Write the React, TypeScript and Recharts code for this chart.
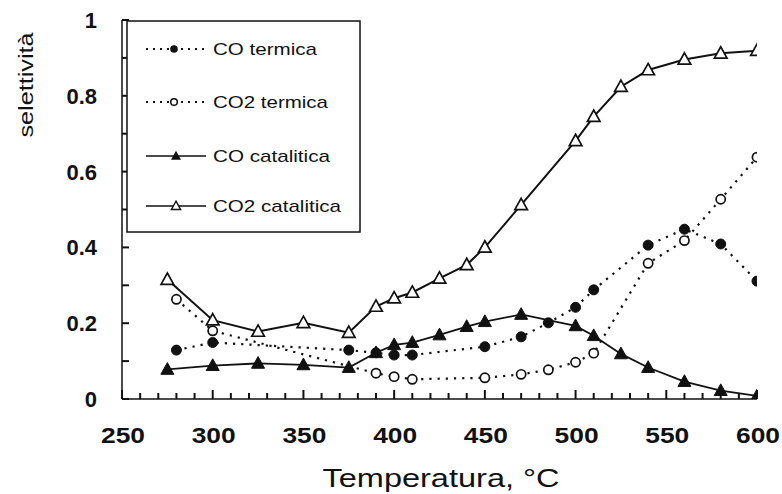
import React from 'react';
import { LineChart, Line, XAxis, YAxis, Legend, Label } from 'recharts';

// ---- data ----
const tempCatalitica = [275, 300, 325, 350, 375, 390, 400, 410, 425, 440, 450, 470, 500, 510, 525, 540, 560, 580, 600];
const coCatalitica = [0.078, 0.088, 0.094, 0.09, 0.083, 0.122, 0.143, 0.149, 0.169, 0.191, 0.204, 0.223, 0.193, 0.167, 0.119, 0.083, 0.046, 0.022, 0.008];
const co2Catalitica = [0.315, 0.208, 0.178, 0.201, 0.175, 0.244, 0.266, 0.281, 0.318, 0.354, 0.4, 0.512, 0.681, 0.745, 0.824, 0.868, 0.896, 0.912, 0.919];

const tempCoTermica = [280, 300, 375, 390, 400, 410, 450, 470, 485, 500, 510, 540, 560, 580, 600];
const coTermica = [0.129, 0.149, 0.129, 0.122, 0.116, 0.116, 0.138, 0.164, 0.201, 0.242, 0.288, 0.406, 0.448, 0.409, 0.311];

const tempCo2Termica = [280, 300, 390, 400, 410, 450, 470, 485, 500, 510, 540, 560, 580, 600];
const co2Termica = [0.263, 0.18, 0.068, 0.059, 0.052, 0.056, 0.065, 0.077, 0.097, 0.121, 0.358, 0.418, 0.527, 0.638];

const xTicks = [250, 260, 270, 280, 290, 300, 310, 320, 330, 340, 350, 360, 370, 380, 390, 400, 410, 420, 430, 440, 450, 460, 470, 480, 490, 500, 510, 520, 530, 540, 550, 560, 570, 580, 590, 600];
const yTicks = [0, 0.1, 0.2, 0.3, 0.4, 0.5, 0.6, 0.7, 0.8, 0.9, 1];

const seriesNames = ['CO termica', 'CO2 termica', 'CO catalitica', 'CO2 catalitica'];

const zip = (xs: number[], ys: number[]) => xs.map((t, i) => ({ t, v: ys[i] }));
const coTermicaData = zip(tempCoTermica, coTermica);
const co2TermicaData = zip(tempCo2Termica, co2Termica);
const coCataliticaData = zip(tempCatalitica, coCatalitica);
const co2CataliticaData = zip(tempCatalitica, co2Catalitica);

const FONT = '"Liberation Sans", Arial, Helvetica, sans-serif';
const INK = '#111';

const triPath = (cx: number, cy: number, s: number) =>
  `M${cx},${cy - s * 1.05} L${cx + s},${cy + s * 0.75} L${cx - s},${cy + s * 0.75} Z`;

const FilledCircle = (p: any) =>
  p.cx == null ? null : <circle key={`fc${p.index}`} cx={p.cx} cy={p.cy} r={5} fill={INK} stroke={INK} strokeWidth={1} />;
const OpenCircle = (p: any) =>
  p.cx == null ? null : <circle key={`oc${p.index}`} cx={p.cx} cy={p.cy} r={4.6} fill="#fff" stroke={INK} strokeWidth={1.7} />;
const FilledTri = (p: any) =>
  p.cx == null ? null : <path key={`ft${p.index}`} d={triPath(p.cx, p.cy, 6.5)} fill={INK} stroke={INK} strokeWidth={1} />;
const OpenTri = (p: any) =>
  p.cx == null ? null : <path key={`ot${p.index}`} d={triPath(p.cx, p.cy, 6.3)} fill="#fff" stroke={INK} strokeWidth={1.7} />;

const XTick = (props: any) => {
  const { x, y, payload } = props;
  const v = payload.value;
  const major = v % 50 === 0;
  return (
    <g>
      <path d={`M${x},${y} L${x},${y - (major ? 9 : 6)}`} stroke={INK} strokeWidth={2} fill="none" />
      {major && (
        <text x={x + 1} y={y + 44} textAnchor="middle" fontFamily={FONT} fontSize={22} fontWeight="bold" fill={INK}
          textLength={44} lengthAdjust="spacingAndGlyphs">{v}</text>
      )}
    </g>
  );
};

const YTick = (props: any) => {
  const { x, y, payload } = props;
  const v = payload.value;
  const major = Math.round(v * 10) % 2 === 0;
  const label = v === 0 ? '0' : v === 1 ? '1' : v.toFixed(1);
  return (
    <g>
      <path d={`M${x},${y} L${x + 7},${y}`} stroke={INK} strokeWidth={2} fill="none" />
      {major && (
        <text x={x - 25} y={y + 8} textAnchor="end" fontFamily={FONT} fontSize={22} fontWeight="bold" fill={INK}>{label}</text>
      )}
    </g>
  );
};

const legendWidths = [104, 115, 117, 128];

const LegendBox = () => {
  const rows = [29, 82, 136, 186];
  return (
    <svg width={236} height={214} style={{ display: 'block' }}>
      <rect x={1} y={1} width={233} height={211} fill="#fff" stroke={INK} strokeWidth={1.5} />
      {seriesNames.map((name, i) => {
        const cy = rows[i];
        const dotted = i < 2;
        return (
          <g key={name}>
            <line x1={20} x2={80} y1={cy} y2={cy} stroke={INK} strokeWidth={dotted ? 2 : 1.6}
              strokeDasharray={dotted ? '2 5' : undefined} />
            {i === 0 && <circle cx={48} cy={cy} r={3.8} fill={INK} />}
            {i === 1 && <circle cx={48} cy={cy} r={3.3} fill="#fff" stroke={INK} strokeWidth={1.5} />}
            {i === 2 && <path d={triPath(50, cy, 5)} fill={INK} />}
            {i === 3 && <path d={triPath(50, cy, 4.6)} fill="#fff" stroke={INK} strokeWidth={1.4} />}
            <text x={87} y={cy + 6} fontFamily={FONT} fontSize={17} fill={INK}
              textLength={legendWidths[i]} lengthAdjust="spacingAndGlyphs">{name}</text>
          </g>
        );
      })}
    </svg>
  );
};

export default function App() {
  return (
    <div style={{ position: 'absolute', left: 0, top: 0, width: 782, height: 494, background: '#fff' }}>
      <LineChart width={782} height={494} margin={{ top: 20, right: 25, bottom: 0, left: 0 }}>
        <XAxis dataKey="t" type="number" domain={[250, 600]} ticks={xTicks} interval={0}
          allowDataOverflow height={95} tickSize={0} tickMargin={0} tickLine={false}
          axisLine={{ stroke: INK, strokeWidth: 1.5 }} tick={<XTick />}>
          <Label content={() => (
            <text x={441} y={487} textAnchor="middle" fontFamily={FONT} fontSize={26} fill={INK}
              textLength={237} lengthAdjust="spacingAndGlyphs">Temperatura, °C</text>
          )} />
        </XAxis>
        <XAxis xAxisId="top" orientation="top" dataKey="t" type="number" domain={[250, 600]} height={0}
          tick={false} tickLine={false} axisLine={{ stroke: INK, strokeWidth: 1.5 }} />
        <YAxis type="number" domain={[0, 1]} ticks={yTicks} interval={0} allowDataOverflow
          width={122} tickSize={0} tickMargin={0} tickLine={false}
          axisLine={{ stroke: INK, strokeWidth: 1.5 }} tick={<YTick />}>
          <Label content={() => (
            <text x={33} y={85} transform="rotate(-90, 33, 85)" textAnchor="middle" fontFamily={FONT}
              fontSize={21} fill={INK} textLength={105} lengthAdjust="spacingAndGlyphs">selettività</text>
          )} />
        </YAxis>
        <YAxis yAxisId="right" orientation="right" type="number" domain={[0, 1]} width={0}
          tick={false} tickLine={false} axisLine={{ stroke: INK, strokeWidth: 1.5 }} />
        <Line data={coTermicaData} dataKey="v" name={seriesNames[0]} type="linear" stroke={INK} strokeWidth={2.2}
          strokeDasharray="2.2 6" dot={FilledCircle} activeDot={false} isAnimationActive={false} />
        <Line data={co2TermicaData} dataKey="v" name={seriesNames[1]} type="linear" stroke={INK} strokeWidth={2.2}
          strokeDasharray="2.2 6" dot={OpenCircle} activeDot={false} isAnimationActive={false} />
        <Line data={coCataliticaData} dataKey="v" name={seriesNames[2]} type="linear" stroke={INK} strokeWidth={1.8}
          dot={FilledTri} activeDot={false} isAnimationActive={false} />
        <Line data={co2CataliticaData} dataKey="v" name={seriesNames[3]} type="linear" stroke={INK} strokeWidth={2}
          dot={OpenTri} activeDot={false} isAnimationActive={false} />
        <Legend layout="vertical" align="center" verticalAlign="middle" content={() => <LegendBox />}
          wrapperStyle={{ position: 'absolute', left: 126, top: 20, width: 236, height: 214 }} />
      </LineChart>
    </div>
  );
}
